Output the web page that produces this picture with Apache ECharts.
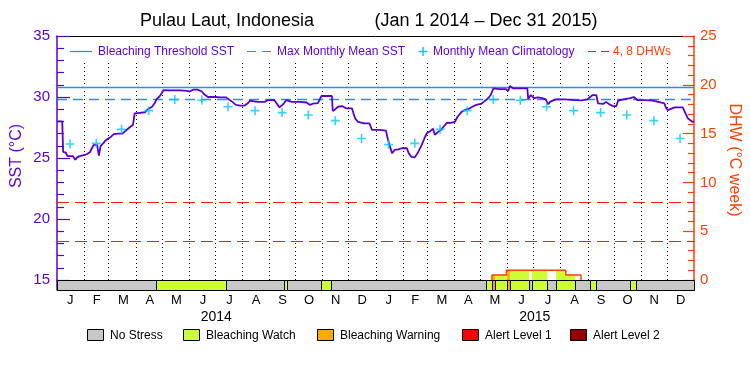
<!DOCTYPE html>
<html><head><meta charset="utf-8">
<script src="https://cdn.jsdelivr.net/npm/echarts@6/dist/echarts.min.js"></script>
<style>html,body{margin:0;padding:0;background:#fff}#c{width:750px;height:375px}</style>
</head><body><div id="c"></div>
<script>
// ---------- DATA (days counted from 2014-01-01) ----------
const monthLabels = ['J','F','M','A','M','J','J','A','S','O','N','D','J','F','M','A','M','J','J','A','S','O','N','D'];
const yearLabels = ['2014','2015'];
const monthStartDays = [31,59,90,120,151,181,212,243,273,304,334,365,396,424,455,485,516,546,577,608,638,669,699];

const sstDays = [0,6,7,10,12,18,21,23,26,32,35,38,40,42,46,48,50,53,55,58,62,65,70,75,79,83,87,89,95,101,104,109,112,114,118,120,122,130,141,149,152,156,161,166,169,173,181,187,194,197,201,205,210,215,219,221,226,230,238,242,249,252,255,259,263,269,278,286,290,293,299,303,315,316,319,322,327,331,338,340,342,345,352,358,361,
  370,377,379,381,384,387,391,395,401,403,406,410,414,418,421,424,427,431,433,436,440,443,447,451,456,459,464,468,473,476,480,486,489,494,497,500,507,514,517,519,523,531,539,540,543,547,551,556,560,563,565,568,572,582,593,601,608,611,614,618,620,626,629,633,637,641,643,649,657,661,665,674,683,689,696,698,700,704,708,717,720,723,728,730];
const sstValues = [28.0,28.0,25.5,25.45,25.16,25.16,24.85,25.05,25.15,25.25,25.35,25.5,25.8,26.07,26.07,25.2,26.0,26.2,26.4,26.55,26.75,26.95,27.0,27.0,27.25,27.5,27.7,28.65,28.7,28.75,29.0,29.2,29.5,29.8,30.1,30.3,30.57,30.55,30.55,30.5,30.45,30.6,30.6,30.45,30.2,30.0,30.0,29.97,29.97,29.8,29.6,29.35,29.3,29.3,29.5,29.7,29.65,29.6,29.6,29.75,29.75,29.45,29.15,29.4,29.75,29.6,29.6,29.55,29.35,29.45,29.5,30.08,30.08,28.85,29.0,29.2,29.26,29.07,29.07,28.6,28.2,27.97,27.84,27.84,27.3,
  27.3,27.24,26.6,26.07,25.4,25.66,25.7,25.8,25.8,25.4,25.1,25.05,25.5,26.07,26.6,27.05,27.16,27.4,26.9,27.1,27.3,27.56,27.9,27.87,27.97,28.38,28.8,28.95,29.07,29.2,29.35,29.43,29.6,29.9,30.16,30.7,30.65,30.65,30.5,30.9,30.7,30.7,30.7,29.85,30.16,29.9,29.97,29.9,29.8,29.4,29.6,29.7,29.8,29.8,29.75,29.72,29.8,30.0,30.16,30.16,29.48,29.43,29.6,29.4,29.26,29.26,29.7,29.8,29.9,30.0,29.75,29.75,29.7,29.6,29.48,29.1,28.93,29.05,29.15,29.15,28.7,28.25,27.97,27.97];

const climDays = [15,45,74,105,135,166,196,227,258,288,319,349,380,410,439,470,500,531,561,592,623,653,684,714];
const climValues = [26.15,26.2,27.35,28.88,29.8,29.75,29.2,28.88,28.72,28.52,28.06,26.6,26.1,26.2,27.35,28.88,29.8,29.73,29.2,28.88,28.72,28.52,28.06,26.6];

const maxMonthlyMean = 29.8;
const bleachingThreshold = 30.8;
const dhwLevels = [4, 8];

const dhwDays = [498.5,498.5,515,515,583,583,600.5,600.5];
const dhwValues = [0,0.5,0.5,1.0,1.0,0.5,0.5,0];

const stressStart = [0,113,194,260,264,302,314,492,499,502,516,519,541,544,562,572,594,611,618,657,664];
const stressEnd   = [113,194,260,264,302,314,492,499,502,516,519,541,544,562,572,594,611,618,657,664,730];
const stressLevel = [0,1,0,1,0,1,0,1,2,1,2,1,0,1,0,1,0,1,0,1,0];
const stressNames = ['No Stress','Bleaching Watch','Bleaching Warning','Alert Level 1','Alert Level 2'];

// ---------- STYLE ----------
const stressColors = ['#c8c8c8','#ccff33','#ffaa00','#ff0000','#990000'];
const FONT = 'Liberation Sans';
const PURPLE = '#5a00d2';
const ORANGE = '#ff4000';
const RED = '#ff1a1a';
const BLUE = '#1e90ff';
const CYAN = '#00c8ff';

const chart = echarts.init(document.getElementById('c'), null, {renderer:'canvas'});

function dhwInterp(x) {
  for (let i = 0; i < dhwDays.length - 1; i++) {
    const a = dhwDays[i], b = dhwDays[i+1];
    if (b > a && x >= a && x <= b) return dhwValues[i] + (dhwValues[i+1]-dhwValues[i])*(x-a)/(b-a);
  }
  return 0;
}

const stressData = stressStart.map((s,i)=>[s, stressEnd[i], stressLevel[i]]);

function renderStress(params, api) {
  const p0 = api.coord([api.value(0), 0]);
  const p1 = api.coord([api.value(1), 1]);
  return {type:'rect', shape:{x:Math.round(p0[0])+0.5, y:p1[1]+0.5, width:Math.round(p1[0])-Math.round(p0[0]), height:p0[1]-p1[1]},
    style:{fill:stressColors[api.value(2)], stroke:'#000', lineWidth:1}};
}
function renderDhwFill(params, api) {
  const s = api.value(0), e = api.value(1), lvl = api.value(2);
  if (lvl === 0) return {type:'group', children:[]};
  const pts = [[s,0],[s,dhwInterp(s+1e-6)]];
  dhwDays.forEach((d,i)=>{ if (d > s && d < e) pts.push([d, dhwValues[i]]); });
  pts.push([e, dhwInterp(e-1e-6)]); pts.push([e,0]);
  if (pts.every(p=>p[1]===0)) return {type:'group', children:[]};
  return {type:'polygon', shape:{points: pts.map(p=>api.coord(p))}, style:{fill:stressColors[lvl]}};
}
function renderMonthLine(params, api) {
  const p = api.coord([api.value(0), api.value(1)]);
  const x = Math.round(p[0]) + 0.5;
  return {type:'line', shape:{x1:x, y1:params.coordSys.y + 27, x2:x, y2:p[1]},
    style:{stroke:'#000', lineWidth:1, lineDash:[1,3]}};
}

const txt = (text, x, y, size, color, align, rot) => ({
  type:'text', x:x, y:y, rotation: rot || 0, silent:true,
  style:{text:text, font: size + 'px "' + FONT + '"', fill:color,
    textAlign: align || 'left', textVerticalAlign:'middle', align: align || 'left', verticalAlign:'middle'}
});
const ln = (x1,y1,x2,y2,color,dash,w) => ({type:'line', silent:true, shape:{x1,y1,x2,y2},
  style:{stroke:color, lineWidth:w||1.2, lineDash:dash||null}});

const legendBoxX = [87,183,317,462,570];
const graphics = [
  txt('Pulau Laut, Indonesia', 227, 21, 18, '#000', 'center'),
  txt('(Jan 1 2014 \u2013 Dec 31 2015)', 486, 21, 18, '#000', 'center'),
  txt('SST (\u00B0C)', 17, 156, 16, PURPLE, 'center', Math.PI/2),
  txt('DHW (\u00B0C week)', 734, 160, 16, ORANGE, 'center', -Math.PI/2),
  ln(70,51.5,92,51.5,BLUE),
  txt('Bleaching Threshold SST', 98, 52, 12, PURPLE),
  ln(247,51.5,273,51.5,BLUE,[9,6]),
  txt('Max Monthly Mean SST', 277, 52, 12, PURPLE),
  ln(418.5,51.5,427.5,51.5,CYAN,null,1.5),
  ln(423,47,423,56,CYAN,null,1.5),
  txt('Monthly Mean Climatology', 433, 52, 12, PURPLE),
  ln(588,51.5,609,51.5,RED,[8,5]),
  txt('4, 8 DHWs', 613, 52, 12, ORANGE),
];
stressNames.forEach((n,i)=>{
  graphics.push({type:'rect', silent:true, shape:{x:legendBoxX[i]+0.5, y:329.5, width:16, height:11},
    style:{fill:stressColors[i], stroke:'#000', lineWidth:1}});
  graphics.push(txt(n, legendBoxX[i]+23, 336, 12, '#000'));
});

const option = {
  animation:false,
  backgroundColor:'#fff',
  textStyle:{fontFamily:FONT},
  grid:[
    {left:57, right:56, top:36, height:244, outerBoundsMode:'none', containLabel:false},
    {left:57, right:56, top:280, height:10, outerBoundsMode:'none', containLabel:false}
  ],
  xAxis:[
    {gridIndex:0, type:'value', min:0, max:730, position:'top',
      axisLine:{show:true, onZero:false, lineStyle:{color:'#000', width:1}}, axisTick:{show:false}, axisLabel:{show:false}, splitLine:{show:false}},
    {gridIndex:1, type:'value', min:0, max:730, position:'bottom',
      axisLine:{show:false}, axisTick:{show:false}, axisLabel:{show:false}, splitLine:{show:false}},
    {gridIndex:1, type:'category', data:monthLabels, position:'bottom', boundaryGap:true,
      axisLine:{show:false}, axisTick:{show:false}, splitLine:{show:false},
      axisLabel:{color:'#000', fontSize:13, margin:4, interval:0, fontFamily:FONT}},
    {gridIndex:1, type:'category', data:yearLabels, position:'bottom', offset:17, boundaryGap:true,
      axisLine:{show:false}, axisTick:{show:false}, splitLine:{show:false},
      axisLabel:{color:'#000', fontSize:14, margin:3, interval:0, fontFamily:FONT}}
  ],
  yAxis:[
    {gridIndex:0, type:'value', min:15, max:35, interval:5, position:'left',
      axisLine:{show:true, onZero:false, lineStyle:{color:PURPLE, width:1.5}},
      axisTick:{show:true, inside:true, length:13, lineStyle:{color:PURPLE, width:1.2}},
      minorTick:{show:true, splitNumber:5, length:7, lineStyle:{color:PURPLE, width:1.2}},
      axisLabel:{color:PURPLE, fontSize:15, margin:7, fontFamily:FONT}, splitLine:{show:false}},
    {gridIndex:0, type:'value', min:0, max:25, interval:5, position:'right',
      axisLine:{show:true, onZero:false, lineStyle:{color:ORANGE, width:1.5}},
      axisTick:{show:true, inside:true, length:11, lineStyle:{color:ORANGE, width:1.2}},
      minorTick:{show:true, splitNumber:5, length:6, lineStyle:{color:ORANGE, width:1.2}},
      axisLabel:{color:ORANGE, fontSize:15, margin:6, fontFamily:FONT}, splitLine:{show:false}},
    {gridIndex:1, type:'value', min:0, max:1, position:'left',
      axisLine:{show:true, onZero:false, lineStyle:{color:PURPLE, width:1.5}}, axisTick:{show:false}, axisLabel:{show:false}, splitLine:{show:false}},
    {gridIndex:1, type:'value', min:0, max:1, position:'right',
      axisLine:{show:true, onZero:false, lineStyle:{color:ORANGE, width:1.5}}, axisTick:{show:false}, axisLabel:{show:false}, splitLine:{show:false}}
  ],
  series:[
    {type:'custom', name:'months', xAxisIndex:0, yAxisIndex:0, silent:true, z:1,
      data: monthStartDays.map(d=>[d,15]), encode:{x:0, y:1}, renderItem: renderMonthLine},
    {type:'custom', name:'dhwFill', xAxisIndex:0, yAxisIndex:1, silent:true, z:2,
      data: stressData, encode:{x:[0,1]}, renderItem: renderDhwFill},
    {type:'line', name:'DHW', xAxisIndex:0, yAxisIndex:1, z:3, showSymbol:false, silent:true,
      data: dhwDays.map((d,i)=>[d, dhwValues[i]]),
      lineStyle:{color:ORANGE, width:1.5},
      markLine:{symbol:'none', silent:true, label:{show:false},
        data: dhwLevels.map(v=>({yAxis:v, lineStyle:{color:RED, type:[12,6], width:1.2}}))}},
    {type:'line', name:'SST', xAxisIndex:0, yAxisIndex:0, z:5, showSymbol:false, silent:true,
      data: sstDays.map((d,i)=>[d, sstValues[i]]),
      lineStyle:{color:PURPLE, width:1.8},
      markLine:{symbol:'none', silent:true, label:{show:false}, z:2,
        data:[{yAxis:bleachingThreshold, lineStyle:{color:BLUE, type:'solid', width:1.3}},
              {yAxis:maxMonthlyMean, lineStyle:{color:BLUE, type:[10,6], width:1.3}}]}},
    {type:'scatter', name:'Climatology', xAxisIndex:0, yAxisIndex:0, z:6, silent:true,
      data: climDays.map((d,i)=>[d, climValues[i]]),
      symbol:'path://M0,5L10,5M5,0L5,10', symbolSize:9,
      itemStyle:{color:'rgba(0,0,0,0)', borderColor:CYAN, borderWidth:1.6}},
    {type:'custom', name:'stress', xAxisIndex:1, yAxisIndex:2, silent:true, z:3,
      data: stressData, encode:{x:[0,1]}, renderItem: renderStress}
  ],
  graphic: graphics
};
chart.setOption(option);
</script>
</body></html>
